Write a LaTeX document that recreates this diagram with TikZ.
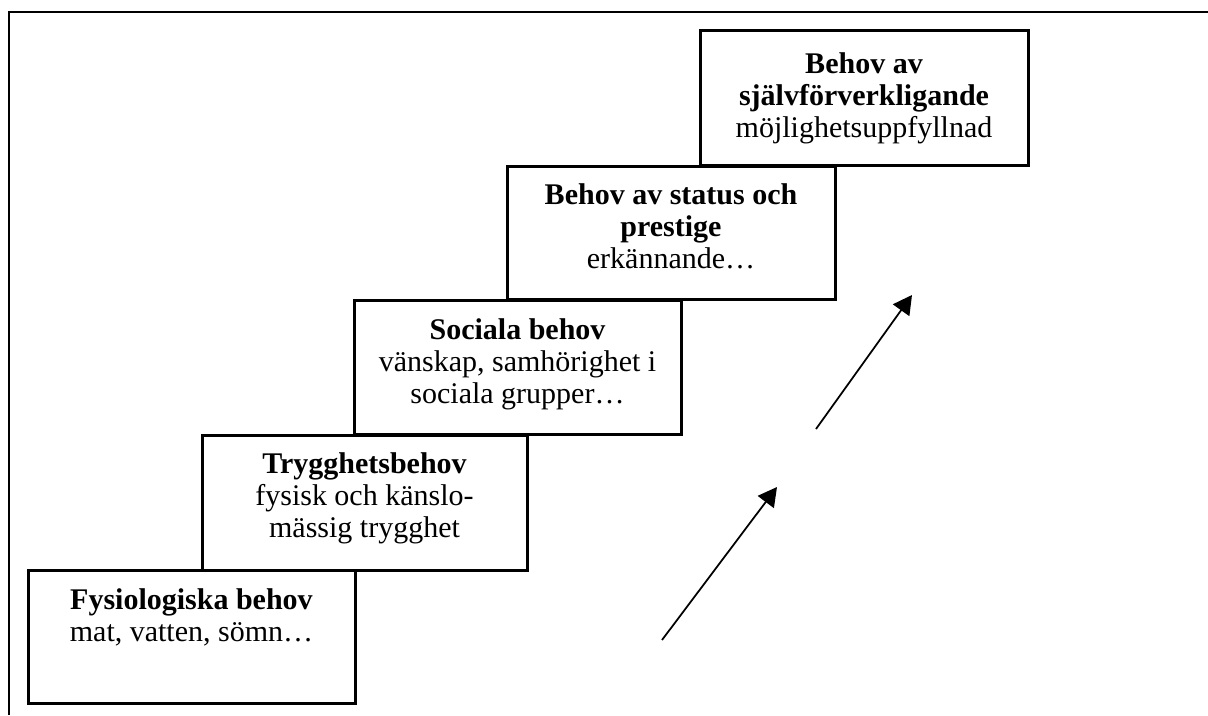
\documentclass[tikz,border=0pt]{standalone}
\usepackage{fontspec}
\setmainfont{Liberation Serif}
\usetikzlibrary{arrows.meta,fit}
\begin{document}
\begin{tikzpicture}[x=0.4pt,y=-0.4pt,
  frame/.style={line width=0.8pt},
  stepbox/.style={draw, line width=1.2pt, inner sep=0pt, rectangle},
  txt/.style={align=center, inner sep=0pt, anchor=north, font=\fontsize{12}{12.9}\selectfont},
  rise/.style={line width=0.7pt, -{Triangle[length=7.5pt,width=8pt]}}]
\useasboundingbox (0,0) rectangle (1208,715);
% outer frame (top and left only)
\coordinate (f1) at (1208,12);
\coordinate (f2) at (9,12);
\coordinate (f3) at (9,715);
\draw[frame] (f1) -- (f2) -- (f3);
% boxes
\node[stepbox, fit={(28,570)(355,703)}] (b1) {};
\node[stepbox, fit={(202,435)(527,570)}] (b2) {};
\node[stepbox, fit={(354,300)(681,434)}] (b3) {};
\node[stepbox, fit={(507,166)(835,299)}] (b4) {};
\node[stepbox, fit={(700,30)(1028,165)}] (b5) {};
% texts
\node[txt] (t1) at (191.5,588) {\textbf{Fysiologiska behov}\\mat, vatten, sömn…};
\node[txt] (t2) at (364.5,452) {\textbf{Trygghetsbehov}\\fysisk och känslo-\\mässig trygghet};
\node[txt] (t3) at (517.5,318) {\textbf{Sociala behov}\\vänskap, samhörighet i\\sociala grupper…};
\node[txt] (t4) at (671,183) {\textbf{Behov av status och}\\\textbf{prestige}\\erkännande…};
\node[txt] (t5) at (864,52) {\textbf{Behov av}\\\textbf{självförverkligande}\\möjlighetsuppfyllnad};
% arrows
\coordinate (a1s) at (662,640);
\coordinate (a1e) at (777,487);
\coordinate (a2s) at (816,429);
\coordinate (a2e) at (912,295);
\draw[rise] (a1s) -- (a1e);
\draw[rise] (a2s) -- (a2e);
\end{tikzpicture}
\end{document}
